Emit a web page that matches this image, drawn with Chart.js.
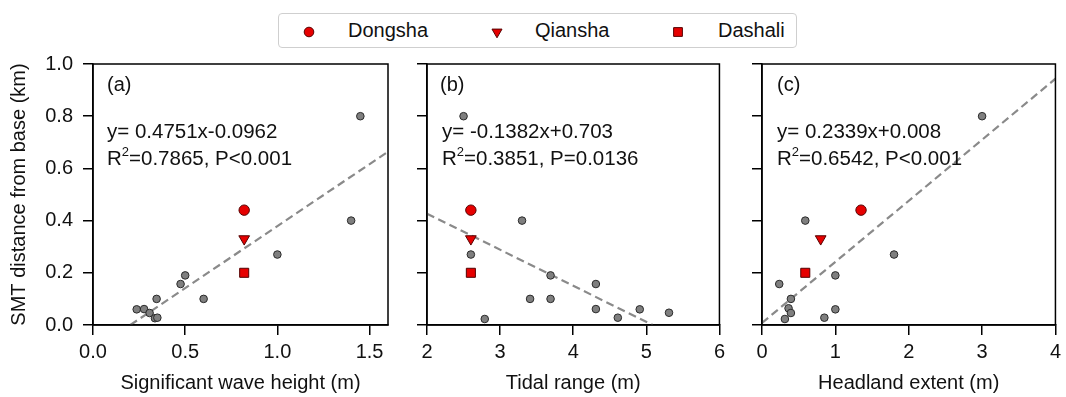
<!DOCTYPE html>
<html>
<head>
<meta charset="utf-8">
<script src="https://cdn.jsdelivr.net/npm/chart.js@4/dist/chart.umd.min.js"></script>
<style>
    body { margin: 0; background: #fff; }
    #wrap { position: relative; width: 1066px; height: 397px; font-family: "Liberation Sans", Arial, sans-serif; }
    .panel { position: absolute; top: 0; height: 397px; }
    #legend {
        position: absolute; left: 278px; top: 13px; width: 517px; height: 33px;
        border: 1px solid #cfcfcf; border-radius: 4px; background: #fff;
        font-size: 20px; color: #111;
    }
    #legend .mk { position: absolute; top: 0; }
    #legend .txt { position: absolute; top: 5px; line-height: 22px; }
</style>
</head>
<body>
<div id="wrap">
    <div class="panel" style="left:0; width:400px;"><canvas id="chartA"></canvas></div>
    <div class="panel" style="left:400px; width:330px;"><canvas id="chartB"></canvas></div>
    <div class="panel" style="left:735px; width:331px;"><canvas id="chartC"></canvas></div>
    <div id="legend"></div>
</div>
<script>
// ================ data ================
const stationNames = ['Dongsha', 'Qiansha', 'Dashali'];
const stationY = [0.44, 0.33, 0.20];

// (a) significant wave height
const xOthersA = [1.45, 1.40, 1.00, 0.50, 0.475, 0.60, 0.345, 0.237, 0.277, 0.307, 0.336, 0.349];
const yOthersA = [0.80, 0.40, 0.27, 0.19, 0.157, 0.10, 0.10, 0.06, 0.061, 0.046, 0.026, 0.028];
const stationXA = [0.82, 0.82, 0.82];
const fitA = [0.4751, -0.0962];
const xTicksA = [0, 0.5, 1.0, 1.5];

// (b) tidal range
const xOthersB = [2.5, 3.3, 2.6, 3.69, 4.31, 3.41, 3.69, 4.31, 4.91, 5.31, 4.61, 2.79];
const yOthersB = [0.80, 0.40, 0.27, 0.19, 0.157, 0.10, 0.10, 0.061, 0.06, 0.047, 0.028, 0.023];
const stationXB = [2.6, 2.6, 2.6];
const fitB = [-0.1382, 0.703];
const xTicksB = [2, 3, 4, 5, 6];

// (c) headland extent
const xOthersC = [3.0, 0.59, 1.8, 1.0, 0.235, 0.394, 0.362, 0.394, 1.0, 0.312, 0.85];
const yOthersC = [0.80, 0.40, 0.27, 0.19, 0.157, 0.10, 0.064, 0.046, 0.06, 0.023, 0.028];
const stationXC = [1.35, 0.8, 0.59];
const fitC = [0.2339, 0.008];
const xTicksC = [0, 1, 2, 3, 4];

const yTicks = [0, 0.2, 0.4, 0.6, 0.8, 1.0];

// ================ styles ================
const FONT = '"Liberation Sans", Arial, sans-serif';
Chart.defaults.font.family = FONT;
Chart.defaults.color = '#111';

const stationStyles = [
    { pointStyle: 'circle', radius: 5.2, rotation: 0 },
    { pointStyle: 'triangle', radius: 6.2, rotation: 180 },
    { pointStyle: 'rect', radius: 6.4, rotation: 0 }
];
const redFill = '#e60000';
const redEdge = '#550000';

function zip(xs, ys) {
    return xs.map((x, i) => ({ x: x, y: ys[i] }));
}

// regression line over the x range, cut where it leaves y >= 0
function fitLine(fit, xmin, xmax) {
    const [a, b] = fit;
    let x0 = xmin, x1 = xmax;
    const xZero = -b / a;
    if (a > 0 && xZero > x0) x0 = xZero;
    if (a < 0 && xZero < x1) x1 = xZero;
    return [{ x: x0, y: a * x0 + b }, { x: x1, y: a * x1 + b }];
}

const frameAndText = {
    id: 'frameAndText',
    afterDatasetsDraw(chart, args, opts) {
        const { ctx, chartArea: ca } = chart;
        ctx.save();
        ctx.strokeStyle = '#000';
        ctx.lineWidth = 1.5;
        ctx.strokeRect(ca.left, ca.top, ca.right - ca.left, ca.bottom - ca.top);

        const x = ca.left + opts.dx;
        ctx.fillStyle = '#111';
        ctx.textBaseline = 'middle';
        ctx.textAlign = 'left';
        ctx.font = '20px ' + FONT;
        ctx.fillText(opts.tag, x, ca.top + 21);
        ctx.font = '20.5px ' + FONT;
        ctx.fillText(opts.eq, x + opts.dxEq, ca.top + 68);
        let cx = x + opts.dxEq;
        const ry = ca.top + 95;
        ctx.fillText('R', cx, ry);
        cx += ctx.measureText('R').width;
        ctx.font = '13px ' + FONT;
        ctx.fillText('2', cx, ry - 7);
        cx += ctx.measureText('2').width;
        ctx.font = '20.5px ' + FONT;
        ctx.fillText(opts.stat, cx, ry);
        ctx.restore();
    }
};

function makeChart(id, cfg) {
    const datasets = [];
    datasets.push({
        data: fitLine(cfg.fit, cfg.xmin, cfg.xmax),
        showLine: true,
        borderColor: '#8a8a8a',
        borderWidth: 2.2,
        borderDash: [8, 4.5],
        pointRadius: 0,
        order: 3
    });
    datasets.push({
        data: zip(cfg.xs, cfg.ys),
        pointRadius: 3.8,
        pointBackgroundColor: '#7f7f7f',
        pointBorderColor: '#2a2a2a',
        pointBorderWidth: 1,
        order: 2
    });
    stationNames.forEach((name, i) => {
        datasets.push({
            label: name,
            data: [{ x: cfg.stationX[i], y: stationY[i] }],
            pointStyle: stationStyles[i].pointStyle,
            pointRadius: stationStyles[i].radius,
            rotation: stationStyles[i].rotation,
            pointBackgroundColor: redFill,
            pointBorderColor: redEdge,
            pointBorderWidth: 1,
            order: 1
        });
    });

    return new Chart(document.getElementById(id), {
        type: 'scatter',
        data: { datasets: datasets },
        options: {
            responsive: true,
            maintainAspectRatio: false,
            animation: false,
            layout: { padding: { top: 64, right: cfg.padRight, bottom: 0, left: 0 } },
            plugins: {
                legend: { display: false },
                tooltip: { enabled: false },
                frameAndText: cfg.text
            },
            scales: {
                x: {
                    type: 'linear',
                    min: cfg.xmin,
                    max: cfg.xmax,
                    afterBuildTicks: (s) => { s.ticks = cfg.ticks.map(v => ({ value: v })); },
                    afterFit: (s) => { s.height = 72; },
                    grid: { drawOnChartArea: false, drawTicks: true, tickLength: 10, color: '#000', lineWidth: 1.5 },
                    border: { display: true, color: '#000', width: 1.5 },
                    ticks: {
                        padding: 5,
                        maxRotation: 0,
                        font: { size: 20 },
                        color: '#111',
                        callback: (v) => cfg.fmt(v)
                    },
                    title: {
                        display: true,
                        text: cfg.xTitle,
                        font: { size: 20 },
                        color: '#111',
                        padding: { top: 0, bottom: 2 }
                    }
                },
                y: {
                    type: 'linear',
                    min: 0,
                    max: 1,
                    afterBuildTicks: (s) => { s.ticks = yTicks.map(v => ({ value: v })); },
                    afterFit: (s) => { s.width = cfg.yWidth; },
                    grid: { drawOnChartArea: false, drawTicks: true, tickLength: 10, color: '#000', lineWidth: 1.5 },
                    border: { display: true, color: '#000', width: 1.5 },
                    ticks: {
                        padding: 10,
                        font: { size: 20 },
                        color: '#111',
                        callback: (v) => cfg.showY ? v.toFixed(1) : ''
                    },
                    title: {
                        display: cfg.showY,
                        text: 'SMT distance from base (km)',
                        font: { size: 20 },
                        color: '#111',
                        padding: { top: 7, bottom: 0 }
                    }
                }
            }
        },
        plugins: [frameAndText]
    });
}

makeChart('chartA', {
    xs: xOthersA, ys: yOthersA, stationX: stationXA, fit: fitA,
    xmin: 0, xmax: 1.6, ticks: xTicksA, fmt: (v) => v.toFixed(1),
    xTitle: 'Significant wave height (m)', showY: true, yWidth: 93, padRight: 12,
    text: { tag: '(a)', dx: 14, dxEq: 0, eq: 'y= 0.4751x-0.0962', stat: '=0.7865, P<0.001' }
});
makeChart('chartB', {
    xs: xOthersB, ys: yOthersB, stationX: stationXB, fit: fitB,
    xmin: 2, xmax: 6, ticks: xTicksB, fmt: (v) => String(v),
    xTitle: 'Tidal range (m)', showY: false, yWidth: 27, padRight: 8,
    text: { tag: '(b)', dx: 13, dxEq: 2, eq: 'y= -0.1382x+0.703', stat: '=0.3851, P=0.0136' }
});
makeChart('chartC', {
    xs: xOthersC, ys: yOthersC, stationX: stationXC, fit: fitC,
    xmin: 0, xmax: 4, ticks: xTicksC, fmt: (v) => String(v),
    xTitle: 'Headland extent (m)', showY: false, yWidth: 27, padRight: 9,
    text: { tag: '(c)', dx: 15, dxEq: 0, eq: 'y= 0.2339x+0.008', stat: '=0.6542, P<0.001' }
});

// ================ shared legend ================
const legendEl = document.getElementById('legend');
const markerX = [30, 218, 399];
const textX = [69, 256, 439];
stationNames.forEach((name, i) => {
    const c = document.createElement('canvas');
    c.width = 16; c.height = 16;
    c.className = 'mk';
    c.style.left = (markerX[i] - 8) + 'px';
    c.style.top = '10px';
    const g = c.getContext('2d');
    const st = stationStyles[i];
    g.fillStyle = redFill;
    g.strokeStyle = redEdge;
    g.lineWidth = 1;
    Chart.helpers.drawPoint(g, {
        pointStyle: st.pointStyle,
        radius: st.pointStyle === 'circle' ? 4.8 : (st.pointStyle === 'rect' ? 6.2 : 5.8),
        rotation: st.rotation,
        borderWidth: 1
    }, 8, 8);
    legendEl.appendChild(c);
    const t = document.createElement('span');
    t.className = 'txt';
    t.style.left = textX[i] + 'px';
    t.textContent = name;
    legendEl.appendChild(t);
});
</script>
</body>
</html>
